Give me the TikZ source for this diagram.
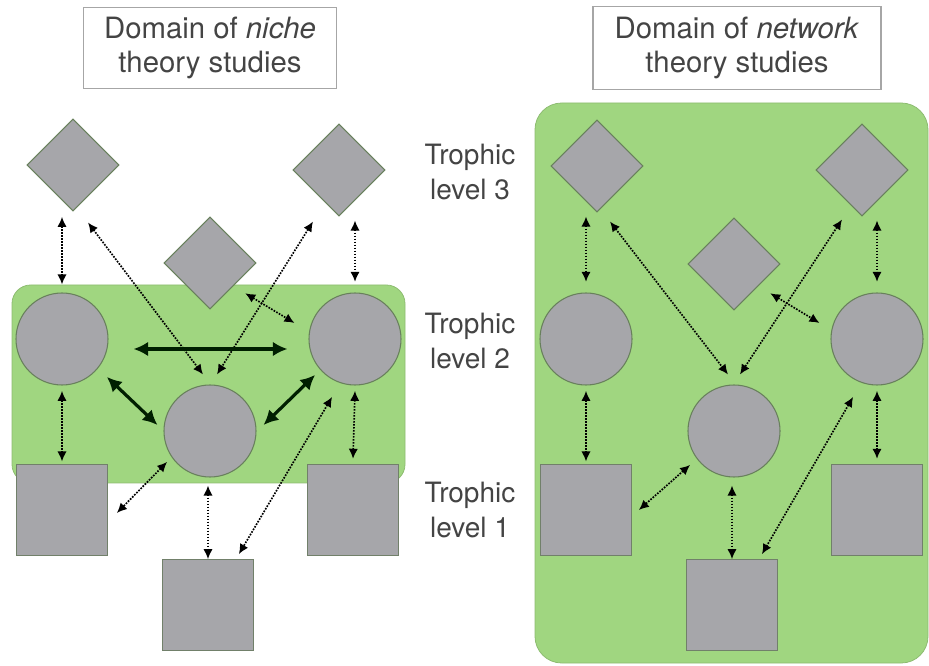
\documentclass[tikz,border=0pt]{standalone}
\usepackage{fontspec}
\setmainfont{TeX Gyre Heros}
\usetikzlibrary{shapes.geometric,arrows.meta}
\definecolor{leafgreen}{RGB}{160,214,128}
\definecolor{shapegray}{RGB}{166,166,170}
\definecolor{edgeolive}{RGB}{104,128,92}
\definecolor{textgray}{RGB}{68,68,68}
\tikzset{
  pred/.style={diamond, aspect=1, draw=edgeolive, fill=shapegray, line width=0.8pt, minimum size=69pt, inner sep=0pt},
  cons/.style={circle, draw=edgeolive, fill=shapegray, line width=0.8pt, minimum size=69pt, inner sep=0pt},
  prod/.style={rectangle, draw=edgeolive!60!gray, fill=shapegray, line width=0.8pt, minimum size=68pt, inner sep=0pt},
  feedlink/.style={densely dotted, line width=1.25pt, {Latex[length=7.5pt,width=7pt]}-{Latex[length=7.5pt,width=7pt]}},
  strongfeed/.style={line width=2.4pt, draw=black!88!green, {Latex[length=11pt,width=11pt]}-{Latex[length=11pt,width=11pt]}},
  titlebox/.style={draw=gray!70, line width=0.8pt, align=center, inner sep=0pt, text=textgray, font=\fontsize{22}{26}\selectfont},
  levelnote/.style={align=center, text=textgray, font=\fontsize{21}{26}\selectfont},
  greenpatch/.style={fill=leafgreen, draw=leafgreen!88!black, line width=0.6pt},
}
\begin{document}
\begin{tikzpicture}[x=0.75pt, y=-0.75pt]
\useasboundingbox (0,0) rectangle (929,666);
% green domains
\draw[greenpatch, rounded corners=14pt] (12,285) rectangle (405,483);
\draw[greenpatch, rounded corners=20pt] (535,103) rectangle (928,663);
% titles and levels
\node[titlebox, minimum width=190pt, minimum height=61pt] (tniche) at (210,48) {Domain of \textit{niche}\\theory studies};
\node[titlebox, minimum width=216pt, minimum height=62pt] (tnet) at (737,48) {Domain of \textit{network}\\theory studies};
\node[levelnote] (lv3) at (470,172) {Trophic\\level 3};
\node[levelnote] (lv2) at (470,341) {Trophic\\level 2};
\node[levelnote] (lv1) at (470,510) {Trophic\\level 1};
% niche panel
\node[pred] (ldia) at (73,165) {};
\node[pred] (mdia) at (210,263) {};
\node[pred] (rdia) at (339,170) {};
\node[cons] (lcir) at (62,339) {};
\node[cons] (mcir) at (210,431) {};
\node[cons] (rcir) at (355,339) {};
\node[prod] (lsq) at (62,510) {};
\node[prod] (bsq) at (208,605) {};
\node[prod] (rsq) at (353,510) {};
\draw[feedlink] ([yshift=-4pt]lcir.north |- ldia.south) -- ([yshift=6pt]lcir.north);
\draw[feedlink] ([shift={(15,11)}]ldia.south) -- ([shift={(-7,-10)}]mcir.north);
\draw[feedlink] ([shift={(-26,5)}]rdia.south) -- ([shift={(7,-10)}]mcir.north);
\draw[feedlink] ([shift={(12,7)}]mdia.south east) -- ([shift={(-14,-16)}]rcir.west);
\draw[feedlink] ([yshift=-3pt]rcir.north |- rdia.south) -- ([yshift=8pt]rcir.north);
\draw[strongfeed] ([shift={(25,10)}]lcir.east) -- ([shift={(-21,10)}]rcir.west);
\draw[strongfeed] ([shift={(12,5)}]lcir.south east) -- ([shift={(-6,-6)}]mcir.west);
\draw[strongfeed] ([shift={(-7,3)}]rcir.south west) -- ([shift={(7,-6)}]mcir.east);
\draw[feedlink] ([yshift=-4pt]lcir.south) -- ([yshift=2pt]lsq.north);
\draw[feedlink] ([shift={(-10,-2)}]mcir.south west) -- ([shift={(9,3)}]lsq.east);
\draw[feedlink] ([yshift=-6pt]bsq.north |- mcir.south) -- (bsq.north);
\draw[feedlink] ([shift={(10,25)}]rcir.south west) -- ([shift={(-15,-5)}]bsq.north east);
\draw[feedlink] ([yshift=-4pt]rcir.south) -- ([yshift=4pt]rsq.north);
% network panel
\node[pred] (nldia) at (597,166) {};
\node[pred] (nmdia) at (734,264) {};
\node[pred] (nrdia) at (862,170) {};
\node[cons] (nlcir) at (586,339) {};
\node[cons] (nmcir) at (734,431) {};
\node[cons] (nrcir) at (877,339) {};
\node[prod] (nlsq) at (586,510) {};
\node[prod] (nbsq) at (732,605) {};
\node[prod] (nrsq) at (877,510) {};
\draw[feedlink] ([yshift=-3pt]nlcir.north |- nldia.south) -- ([yshift=8pt]nlcir.north);
\draw[feedlink] ([shift={(13,9)}]nldia.south) -- ([shift={(-6,-10)}]nmcir.north);
\draw[feedlink] ([shift={(-20,3)}]nrdia.south) -- ([shift={(6,-10)}]nmcir.north);
\draw[feedlink] ([shift={(13,6)}]nmdia.south east) -- ([shift={(-11,-16)}]nrcir.west);
\draw[feedlink] ([yshift=-3pt]nrcir.north |- nrdia.south) -- ([yshift=8pt]nrcir.north);
\draw[feedlink] ([yshift=-4pt]nlcir.south) -- ([yshift=2pt]nlsq.north);
\draw[feedlink] ([shift={(-11,1)}]nmcir.south west) -- ([shift={(7,0)}]nlsq.east);
\draw[feedlink] ([yshift=-6pt]nbsq.north |- nmcir.south) -- (nbsq.north);
\draw[feedlink] ([shift={(9,25)}]nrcir.south west) -- ([shift={(30,-5)}]nbsq.north);
\draw[feedlink] ([yshift=-4pt]nrcir.south) -- ([yshift=4pt]nrsq.north);
\end{tikzpicture}
\end{document}
